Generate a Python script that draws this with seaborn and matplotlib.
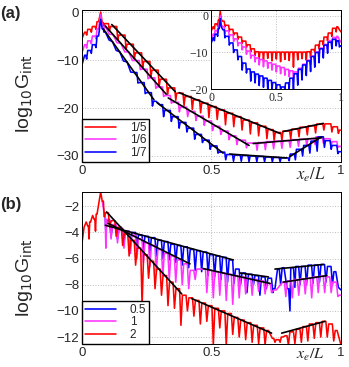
import pandas as pd
import matplotlib
matplotlib.use("Agg")
import matplotlib.pyplot as plt
import seaborn as sns

# values, as (x_e/L, log10 G_int) points:
# crest points of each curve alternate with the bottoms of its dips

# panel (a), main axes
a_red = [(0, -5.5), (0.01, -4.2), (0.018, -4.8), (0.028, -3.6), (0.036, -4.2), (0.046, -3.0), (0.054, -3.6),
         (0.064, -2.0), (0.072, 0.0), (0.078, -2.2), (0.085, -3.0),
         (0.09, -2.4), (0.106, -4.0), (0.122, -3.0), (0.138, -5.8), (0.154, -4.8), (0.17, -7.8), (0.186, -6.7),
         (0.202, -9.8), (0.218, -8.5), (0.234, -11.6), (0.25, -10.3), (0.266, -13.6), (0.282, -12.1),
         (0.298, -15.5), (0.314, -14.0), (0.33, -17.2), (0.346, -15.8), (0.362, -18.4),
         (0.378, -16.9), (0.394, -19.5), (0.41, -17.6), (0.426, -20.3), (0.442, -18.3), (0.458, -21.0),
         (0.474, -19.0), (0.49, -22.0), (0.506, -19.7), (0.522, -22.4), (0.538, -20.4), (0.554, -23.5),
         (0.57, -21.1), (0.586, -23.9), (0.602, -21.8), (0.618, -24.6), (0.634, -22.5), (0.65, -25.4),
         (0.666, -23.1), (0.682, -25.8), (0.698, -23.8), (0.714, -26.4), (0.73, -24.5), (0.742, -26.8),
         (0.755, -25.1), (0.772, -26.8),
         (0.79, -24.8), (0.806, -26.5), (0.822, -24.4), (0.838, -26.0), (0.854, -24.0), (0.87, -25.6),
         (0.886, -23.7), (0.902, -25.2), (0.918, -23.35), (0.934, -24.6), (0.95, -23.3), (0.965, -25.0),
         (0.98, -23.9), (0.99, -25.3), (1.0, -24.6)]
a_mag = [(0, -8.5), (0.01, -6.8), (0.018, -7.5), (0.028, -6.0), (0.036, -6.6), (0.046, -5.0), (0.054, -5.6),
         (0.064, -3.5), (0.072, -0.5), (0.078, -3.0), (0.085, -3.6),
         (0.09, -2.9), (0.105, -4.6), (0.12, -4.7), (0.135, -6.4), (0.15, -6.5), (0.165, -8.3), (0.18, -8.3),
         (0.195, -10.1), (0.21, -10.1), (0.225, -12.0), (0.24, -11.9), (0.255, -13.9), (0.27, -13.7),
         (0.285, -15.9), (0.3, -15.6), (0.315, -17.6), (0.33, -17.4), (0.345, -19.0),
         (0.36, -18.8), (0.376, -20.8), (0.392, -19.8), (0.408, -21.8), (0.424, -20.7), (0.44, -22.6),
         (0.456, -21.7), (0.472, -23.6), (0.488, -22.7), (0.504, -24.7), (0.52, -23.8), (0.536, -25.5),
         (0.552, -24.8), (0.568, -26.6), (0.584, -25.8), (0.598, -27.6), (0.612, -26.7), (0.635, -28.3),
         (0.66, -27.3), (0.676, -28.8), (0.692, -27.2), (0.708, -28.7), (0.724, -27.0), (0.74, -28.5),
         (0.756, -26.9), (0.772, -28.4), (0.788, -26.8), (0.804, -28.2), (0.82, -26.6), (0.836, -28.0),
         (0.852, -26.5), (0.868, -27.9), (0.884, -26.4), (0.9, -27.6), (0.916, -26.0), (0.932, -27.3),
         (0.948, -26.4), (0.962, -27.8), (0.975, -27.0), (0.988, -28.2), (1.0, -28.0)]
a_blue = [(0, -11.0), (0.01, -9.0), (0.018, -9.8), (0.028, -8.0), (0.036, -8.6), (0.046, -6.8), (0.054, -7.4),
          (0.064, -5.0), (0.072, -1.5), (0.078, -3.5), (0.085, -4.2),
          (0.09, -4.1), (0.104, -5.8), (0.118, -6.2), (0.132, -8.0), (0.146, -8.3), (0.16, -10.2), (0.174, -10.4),
          (0.188, -12.5), (0.202, -12.6), (0.216, -14.8), (0.23, -14.7), (0.244, -17.0), (0.258, -16.8),
          (0.272, -19.6), (0.286, -18.6),
          (0.3, -19.3), (0.315, -21.8), (0.33, -20.5), (0.345, -22.8), (0.36, -21.8), (0.375, -24.2),
          (0.39, -23.0), (0.405, -25.0), (0.42, -24.2), (0.435, -26.5), (0.45, -25.5), (0.465, -27.2),
          (0.48, -26.7), (0.495, -28.6), (0.51, -27.9), (0.525, -29.4), (0.54, -29.2), (0.555, -30.8),
          (0.57, -29.7), (0.585, -31.1), (0.6, -29.8), (0.615, -31.1), (0.63, -29.9), (0.645, -31.2),
          (0.66, -30.0), (0.675, -31.2), (0.69, -30.1), (0.705, -31.2), (0.72, -30.2), (0.735, -31.2),
          (0.75, -30.3), (0.765, -31.2), (0.78, -30.4), (0.8, -31.0),
          (0.81, -29.6), (0.824, -30.8), (0.838, -28.6), (0.852, -30.0), (0.866, -27.8), (0.88, -29.4),
          (0.894, -26.9), (0.908, -29.0), (0.922, -26.0), (0.936, -28.2), (0.95, -26.8), (0.962, -28.6),
          (0.975, -27.8), (0.988, -29.5), (1.0, -29.1)]
a_fits = [[(0.115, -2.6), (0.36, -16.6)], [(0.375, -16.8), (0.765, -25.3)], [(0.777, -24.9), (0.932, -23.2)],
          [(0.09, -2.9), (0.325, -17.1)], [(0.333, -17.9), (0.645, -27.8)], [(0.661, -27.4), (0.925, -26.2)],
          [(0.082, -3.5), (0.278, -18.3)], [(0.29, -18.9), (0.545, -29.4)], [(0.57, -29.6), (0.79, -30.4)],
          [(0.803, -30.1), (0.925, -26.0)]]
a_labels = ["1/5", "1/6", "1/7"]

# panel (a), inset
in_red = [(0, -4.2), (0.015, -3.0), (0.025, -3.6), (0.04, -2.2), (0.05, -2.8), (0.062, -1.2), (0.07, 1.3),
          (0.078, -1.0),
          (0.09, -1.5), (0.106, -3.0), (0.123, -2.6), (0.14, -4.2), (0.156, -3.7), (0.173, -5.3), (0.189, -4.7),
          (0.206, -6.4), (0.222, -5.8), (0.239, -7.5), (0.255, -6.9), (0.272, -8.6), (0.288, -7.9),
          (0.305, -9.8), (0.321, -9.0), (0.338, -10.8), (0.354, -9.8),
          (0.37, -11.8), (0.387, -9.9), (0.403, -12.2), (0.42, -9.9), (0.436, -11.6), (0.453, -9.9),
          (0.469, -12.3), (0.486, -9.9), (0.502, -11.8), (0.519, -9.9), (0.535, -12.5), (0.552, -9.9),
          (0.568, -11.9), (0.585, -9.9), (0.601, -12.2), (0.618, -9.9), (0.634, -14.0), (0.651, -9.9),
          (0.667, -12.0), (0.684, -9.9), (0.7, -11.7), (0.717, -9.9), (0.733, -12.1), (0.75, -9.8),
          (0.766, -11.5),
          (0.782, -9.2), (0.798, -10.0), (0.815, -8.0), (0.831, -9.0), (0.848, -6.9), (0.864, -8.0),
          (0.881, -5.8), (0.897, -6.9), (0.914, -4.7), (0.93, -5.6), (0.947, -3.4), (0.963, -4.4),
          (0.975, -3.0), (0.988, -3.8), (1.0, -4.4)]
in_mag = [(0, -6.5), (0.015, -5.0), (0.025, -5.6), (0.04, -4.0), (0.05, -4.6), (0.062, -2.8), (0.07, 0.0),
          (0.078, -2.5),
          (0.09, -3.0), (0.106, -4.8), (0.123, -4.1), (0.14, -5.9), (0.156, -5.2), (0.173, -7.0), (0.189, -6.3),
          (0.206, -8.2), (0.222, -7.4), (0.239, -9.3), (0.255, -8.5), (0.272, -10.5), (0.288, -9.6),
          (0.305, -11.6), (0.321, -10.8), (0.338, -12.6),
          (0.354, -11.5), (0.37, -13.4), (0.387, -11.9), (0.403, -13.9), (0.42, -12.3), (0.436, -14.3),
          (0.453, -12.8), (0.469, -14.8), (0.486, -13.2), (0.502, -15.3), (0.519, -13.7), (0.535, -15.8),
          (0.552, -14.1), (0.568, -16.2), (0.585, -14.6), (0.601, -16.6), (0.618, -15.0), (0.634, -16.9),
          (0.651, -15.3),
          (0.667, -16.0), (0.684, -14.3), (0.7, -15.2), (0.717, -13.2), (0.733, -14.3), (0.75, -12.1),
          (0.766, -13.3), (0.782, -11.0), (0.798, -12.2), (0.815, -9.9), (0.831, -11.0), (0.848, -8.8),
          (0.864, -10.0), (0.881, -7.8), (0.897, -9.0), (0.914, -6.8), (0.93, -7.9), (0.947, -5.9),
          (0.963, -7.0), (0.975, -5.6), (0.988, -6.5), (1.0, -7.2)]
in_blue = [(0, -7.5), (0.015, -6.0), (0.025, -6.8), (0.04, -5.0), (0.05, -5.6), (0.062, -3.5), (0.07, -0.8),
           (0.078, -3.0),
           (0.09, -3.8), (0.106, -6.0), (0.123, -5.6), (0.14, -8.0), (0.156, -7.4), (0.173, -10.0),
           (0.189, -9.3), (0.206, -12.0), (0.222, -11.1), (0.239, -14.8), (0.255, -12.9), (0.272, -15.6),
           (0.288, -14.5),
           (0.305, -17.8), (0.321, -15.3), (0.338, -18.3), (0.354, -15.9), (0.37, -19.0), (0.387, -16.4),
           (0.403, -19.5), (0.42, -17.0), (0.436, -20.0), (0.453, -17.6), (0.469, -20.0), (0.486, -18.2),
           (0.502, -20.0), (0.519, -18.8), (0.535, -20.0), (0.552, -19.4),
           (0.568, -20.0), (0.585, -18.3), (0.601, -20.0), (0.618, -17.0), (0.634, -20.0), (0.651, -15.8),
           (0.667, -18.9), (0.684, -14.6), (0.7, -17.5), (0.717, -13.4), (0.733, -16.3), (0.75, -12.3),
           (0.766, -15.2), (0.782, -11.1), (0.798, -14.0), (0.815, -10.0), (0.831, -12.8), (0.848, -9.0),
           (0.864, -11.5), (0.881, -8.0), (0.897, -10.2), (0.914, -7.2), (0.93, -9.0), (0.947, -6.4),
           (0.963, -8.2), (0.975, -6.8), (0.988, -8.5), (1.0, -8.2)]

# panel (b)
b_red = [(0, -4.8), (0.008, -3.6), (0.016, -3.2), (0.022, -3.5), (0.027, -4.5), (0.033, -3.2), (0.041, -2.7),
         (0.047, -3.0), (0.052, -3.9), (0.058, -2.6), (0.066, -1.6), (0.072, -0.9), (0.078, -1.6), (0.086, -2.8),
         (0.095, -2.5), (0.107, -3.6), (0.12, -3.1), (0.132, -4.3), (0.145, -3.6), (0.157, -5.0), (0.17, -4.1),
         (0.182, -5.8), (0.195, -4.6), (0.207, -6.5), (0.22, -5.2), (0.232, -9.6), (0.245, -5.7), (0.257, -7.5),
         (0.27, -6.2), (0.282, -8.3), (0.295, -6.8), (0.307, -8.8), (0.32, -7.3), (0.332, -9.6), (0.345, -7.8),
         (0.357, -9.8), (0.37, -8.3), (0.382, -11.1), (0.395, -8.8), (0.407, -10.0),
         (0.42, -9.0), (0.432, -10.4), (0.445, -9.2), (0.457, -11.0), (0.47, -9.4), (0.482, -10.8),
         (0.495, -9.6), (0.507, -12.6), (0.52, -9.8), (0.532, -11.3), (0.545, -10.0), (0.557, -12.6),
         (0.57, -10.2), (0.582, -11.8), (0.595, -10.5), (0.607, -12.0), (0.62, -10.7), (0.632, -12.2),
         (0.645, -10.9), (0.657, -12.4), (0.67, -11.1), (0.682, -12.5), (0.695, -11.3), (0.707, -12.6),
         (0.72, -11.5),
         (0.735, -12.1), (0.745, -12.4), (0.755, -12.2), (0.765, -12.4), (0.775, -12.0),
         (0.785, -11.9), (0.797, -12.6), (0.81, -11.6), (0.822, -12.5), (0.835, -11.4), (0.847, -12.4),
         (0.86, -11.2), (0.872, -12.3), (0.885, -11.0), (0.897, -12.1), (0.91, -10.9), (0.922, -12.0),
         (0.935, -10.8), (0.947, -12.0), (0.96, -11.0), (0.972, -12.3), (0.985, -11.5), (1.0, -12.6)]
b_mag = [(0.078, -1.6), (0.086, -2.6), (0.092, -5.2), (0.1, -3.0),
         (0.112, -4.5), (0.125, -3.4), (0.137, -4.8), (0.15, -3.7), (0.162, -5.2), (0.175, -3.9), (0.187, -5.6),
         (0.2, -4.2), (0.212, -6.0), (0.225, -4.5), (0.237, -6.3), (0.25, -4.8), (0.262, -6.6), (0.275, -5.0),
         (0.287, -7.0), (0.3, -5.3), (0.312, -7.3), (0.325, -5.6), (0.337, -7.6), (0.35, -5.8), (0.362, -7.8),
         (0.375, -6.1), (0.387, -8.0), (0.4, -6.4), (0.412, -8.3), (0.425, -6.9), (0.437, -7.6), (0.45, -6.8),
         (0.47, -6.8), (0.482, -8.6), (0.495, -6.9), (0.507, -9.0), (0.52, -7.0), (0.532, -8.8), (0.545, -7.1),
         (0.557, -9.2), (0.57, -7.2), (0.582, -9.5), (0.595, -7.3), (0.607, -9.0), (0.62, -7.4), (0.632, -8.7),
         (0.645, -7.5), (0.657, -8.8), (0.67, -7.6), (0.682, -8.5), (0.695, -7.7), (0.707, -8.7), (0.72, -7.9),
         (0.732, -8.6), (0.75, -8.4),
         (0.775, -7.8), (0.787, -8.9), (0.8, -7.7), (0.812, -9.0), (0.825, -7.6), (0.837, -8.8), (0.85, -7.55),
         (0.862, -8.7), (0.875, -7.5), (0.887, -9.0), (0.9, -7.4), (0.912, -8.6), (0.925, -7.35),
         (0.937, -8.6), (0.95, -7.4), (0.962, -8.6), (0.975, -7.8), (0.988, -8.9), (1.0, -8.8)]
b_blue = [(0.086, -2.6), (0.092, -4.0), (0.1, -3.1),
          (0.112, -4.3), (0.125, -3.5), (0.137, -4.5), (0.15, -3.7), (0.162, -4.7), (0.175, -3.9),
          (0.187, -5.0), (0.2, -4.0), (0.212, -5.2), (0.225, -4.2), (0.237, -5.4), (0.25, -4.3), (0.262, -5.6),
          (0.275, -4.4), (0.287, -5.8), (0.3, -4.6), (0.312, -6.0), (0.325, -4.7), (0.337, -6.1), (0.35, -4.9),
          (0.362, -6.3), (0.375, -5.0), (0.387, -6.5), (0.4, -5.1), (0.412, -6.7), (0.425, -5.3), (0.437, -6.9),
          (0.45, -5.4), (0.462, -7.0), (0.475, -5.5), (0.487, -7.3), (0.5, -5.7), (0.512, -7.4), (0.525, -5.8),
          (0.537, -7.6), (0.55, -5.9), (0.562, -7.8), (0.575, -6.1), (0.587, -7.9),
          (0.6, -6.8), (0.612, -8.0), (0.625, -7.1), (0.637, -8.6), (0.65, -7.2), (0.662, -8.0), (0.675, -7.3),
          (0.687, -8.8), (0.7, -7.4), (0.712, -8.3), (0.725, -7.5), (0.737, -8.6), (0.745, -8.3),
          (0.755, -6.8), (0.767, -8.0), (0.78, -6.7), (0.792, -8.3), (0.803, -10.0), (0.81, -6.7),
          (0.822, -8.2), (0.83, -6.6), (0.842, -8.0), (0.855, -6.6), (0.867, -8.0), (0.88, -6.5),
          (0.892, -7.9), (0.905, -6.5), (0.917, -7.8), (0.93, -6.45), (0.942, -7.8), (0.955, -6.6),
          (0.967, -8.0), (0.98, -7.0), (0.99, -8.2), (1.0, -8.4)]
b_fits = [[(0.095, -2.43), (0.385, -8.7)], [(0.423, -9.05), (0.732, -11.7)], [(0.771, -11.7), (0.938, -10.8)],
          [(0.1, -3.3), (0.417, -6.4)], [(0.468, -6.76), (0.726, -7.9)], [(0.777, -7.8), (0.945, -7.3)],
          [(0.09, -3.45), (0.584, -6.1)], [(0.61, -7.1), (0.72, -7.4)], [(0.745, -6.8), (0.932, -6.45)]]
b_labels = ["0.5", "1", "2"]

RED, MAG, BLUE = "#ff0000", "#ff33ff", "#0000ff"


def curve_df(points, w):
    # a dip point is drawn as a notch: the line stays at the level of
    # the neighbouring crests until just before/after the dip
    xs, ys = [], []
    for i, (x, y) in enumerate(points):
        if 0 < i < len(points) - 1 and y < points[i - 1][1] and y < points[i + 1][1]:
            wl = min(w, 0.45 * (x - points[i - 1][0]))
            wr = min(w, 0.45 * (points[i + 1][0] - x))
            xs += [x - wl, x, x + wr]
            ys += [points[i - 1][1], y, points[i + 1][1]]
        else:
            xs.append(x)
            ys.append(y)
    return pd.DataFrame({"x": xs, "y": ys})


def fit_df(segments):
    rows = []
    for i, seg in enumerate(segments):
        for x, y in seg:
            rows.append({"seg": i, "x": x, "y": y})
    return pd.DataFrame(rows)


def draw(ax, curves, fits, w, legend=True):
    for pts, col, lab in curves:
        sns.lineplot(data=curve_df(pts, w), x="x", y="y", color=col, lw=1.15, sort=False,
                     estimator=None, label=lab if legend else None, legend=False, ax=ax)
    if fits is not None:
        sns.lineplot(data=fit_df(fits), x="x", y="y", units="seg", estimator=None, sort=False,
                     color="black", lw=1.2, legend=False, ax=ax)


def style(ax, yticks, ylim, labelsize=9.5, family=None):
    ax.set_xlim(0, 1)
    ax.set_ylim(*ylim)
    kw = {"fontfamily": family} if family else {}
    ax.set_xticks([0, 0.5, 1], ["0", "0.5", "1"], fontsize=labelsize, **kw)
    ax.set_yticks(yticks, [f"\u2212{-t:g}" if t < 0 else f"{t:g}" for t in yticks], fontsize=labelsize, **kw)
    ax.tick_params(direction="in", length=2.5, width=0.6, pad=2)
    ax.grid(True, ls=":", color="#bdbdbd", lw=0.7)
    for sp in ax.spines.values():
        sp.set_visible(True)
        sp.set_color("black")
        sp.set_linewidth(0.7)
    ax.set_xlabel("")
    ax.set_ylabel("")


sns.set_style("white")
plt.rcParams["font.family"] = ["Liberation Sans", "DejaVu Sans"]

fig = plt.figure(figsize=(3.49, 3.67), dpi=100)
ax_a = fig.add_axes([0.235, 0.5586, 0.742, 0.414])
ax_b = fig.add_axes([0.235, 0.0627, 0.742, 0.414])
ax_in = fig.add_axes([0.605, 0.757, 0.372, 0.215])
ax_in.set_zorder(5)

draw(ax_a, [(a_red, RED, a_labels[0]), (a_mag, MAG, a_labels[1]), (a_blue, BLUE, a_labels[2])], a_fits, 0.004)
style(ax_a, [0, -10, -20, -30], (-31.25, 0.42))

draw(ax_in, [(in_red, RED, None), (in_mag, MAG, None), (in_blue, BLUE, None)], None, 0.005, legend=False)
style(ax_in, [0, -10, -20], (-20, 1.5), labelsize=8.5, family="Liberation Serif")
ax_in.set_facecolor("white")

draw(ax_b, [(b_blue, BLUE, b_labels[0]), (b_mag, MAG, b_labels[1]), (b_red, RED, b_labels[2])], b_fits, 0.009)
style(ax_b, [-2, -4, -6, -8, -10, -12], (-12.53, -0.91))

for ax in (ax_a, ax_b):
    ax.legend(loc="lower left", borderaxespad=0, fancybox=False, edgecolor="black", framealpha=1,
              fontsize=8.5, handlelength=2.6, handletextpad=1.2, borderpad=0.25, labelspacing=0.05)
    ax.set_ylabel(r"log$_{10}$G$_{\rm int}$", fontsize=14)

ax_a.yaxis.set_label_coords(-0.18, 0.45)
ax_b.yaxis.set_label_coords(-0.18, 0.44)
ax_a.set_xlabel(r"$x_e/L$", fontsize=12, math_fontfamily="stix")
ax_a.xaxis.set_label_coords(0.885, -0.025)
ax_b.set_xlabel(r"$x_e/L$", fontsize=11.5, math_fontfamily="stix")
ax_b.xaxis.set_label_coords(0.88, -0.02)

fig.text(0.0, 0.962, "(a)", fontsize=12, fontweight="bold", va="center")
fig.text(0.0, 0.444, "(b)", fontsize=12, fontweight="bold", va="center")

fig.savefig("out.png", dpi=100)
